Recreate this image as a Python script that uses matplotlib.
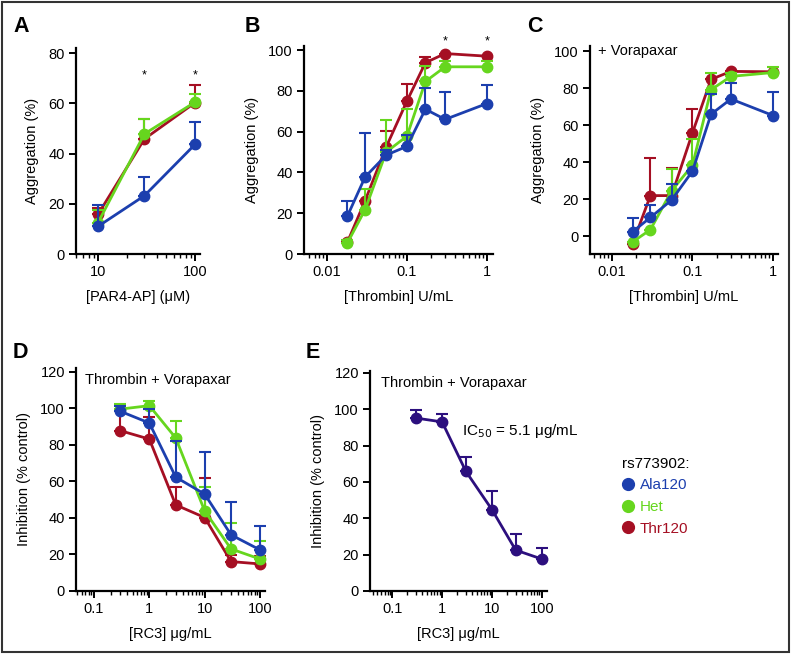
import numpy as np
import matplotlib
matplotlib.use("Agg")
import matplotlib.pyplot as plt
from matplotlib.lines import Line2D
from matplotlib.patches import Rectangle
from matplotlib.ticker import LogLocator, NullFormatter, FixedLocator

# ---------------- data ----------------
A_x = [10, 30, 100]
A_ala = [11.0, 23.2, 43.7]
A_ala_up = [19.7, 30.5, 52.5]
A_het = [12.5, 47.8, 60.5]
A_het_up = [17.5, 53.7, 63.7]
A_thr = [15.8, 45.8, 60.3]
A_thr_up = [18.3, 53.7, 67.2]
A_star_x = [30, 100]

B_x = [0.018, 0.03, 0.055, 0.1, 0.17, 0.3, 1]
B_ala = [18.6, 37.8, 48.5, 52.8, 71.0, 66.0, 73.8]
B_ala_up = [25.9, 59.5, 51.0, 58.2, 81.5, 79.3, 82.8]
B_het = [5.4, 21.8, 50.0, 57.8, 84.6, 91.8, 91.8]
B_het_up = [7.0, 32.0, 65.6, 71.1, 92.0, 94.6, 94.6]
B_thr = [5.8, 26.2, 52.5, 75.0, 93.8, 98.3, 97.0]
B_thr_up = [6.5, 26.2, 60.3, 83.6, 96.7, 98.3, 97.0]
B_star_x = [0.3, 1]

C_x = [0.018, 0.03, 0.055, 0.1, 0.17, 0.3, 1]
C_ala = [2.5, 10.2, 19.6, 35.2, 65.9, 74.1, 65.2]
C_ala_up = [9.7, 17.0, 28.2, 35.2, 76.8, 82.7, 77.7]
C_het = [-3.0, 3.6, 24.6, 38.4, 79.1, 86.3, 88.4]
C_het_up = [-3.0, 3.6, 36.6, 52.7, 88.0, 88.4, 91.4]
C_thr = [-4.0, 22.0, 22.0, 55.9, 84.7, 89.0, 88.8]
C_thr_up = [-4.0, 42.3, 37.0, 68.8, 84.7, 89.0, 88.8]

D_x = [0.3, 1, 3, 10, 30, 100]
D_ala = [98.3, 91.9, 62.3, 53.0, 30.7, 22.5]
D_ala_up = [101.0, 99.5, 81.8, 75.8, 48.6, 35.8]
D_het = [99.5, 101.4, 83.7, 43.8, 23.0, 17.5]
D_het_up = [102.3, 103.7, 93.2, 56.8, 37.1, 27.4]
D_thr = [87.7, 83.1, 47.1, 40.2, 16.1, 14.8]
D_thr_up = [101.9, 95.2, 57.0, 61.7, 19.7, 19.2]

E_x = [0.3, 1, 3, 10, 30, 100]
E_all = [95.1, 93.0, 65.8, 44.8, 22.5, 17.6]
E_all_up = [99.8, 97.6, 73.5, 55.0, 31.3, 23.5]

legend_title = "rs773902:"
legend_labels = ["Ala120", "Het", "Thr120"]

# ---------------- style ----------------
BLUE = "#1c3fae"
GREEN = "#66d61e"
RED = "#a50f23"
PURPLE = "#2c0f7e"

TICK_FONT = ["Liberation Sans", "DejaVu Sans"]
LABEL_FONT = ["Liberation Sans Narrow", "Liberation Sans", "DejaVu Sans"]
plt.rcParams["font.family"] = TICK_FONT

W, H = 792, 658
fig = plt.figure(figsize=(W / 100, H / 100), dpi=100)


def make_ax(left, right, top, bottom):
    return fig.add_axes([left / W, 1 - bottom / H, (right - left) / W, (bottom - top) / H])


def style_ax(ax, xlim, ylim, yticks, xticks, xticklabels, xlabel, ylabel):
    ax.set_xscale("log")
    ax.set_xlim(*xlim)
    ax.set_ylim(*ylim)
    for s in ["top", "right"]:
        ax.spines[s].set_visible(False)
    for s in ["left", "bottom"]:
        ax.spines[s].set_linewidth(1.6)
    ax.set_yticks(yticks)
    ax.xaxis.set_major_locator(FixedLocator(xticks))
    ax.set_xticklabels(xticklabels)
    ax.xaxis.set_minor_locator(LogLocator(base=10, subs=np.arange(2, 10)))
    ax.xaxis.set_minor_formatter(NullFormatter())
    ax.tick_params(axis="both", which="major", direction="out", length=5, width=1.4,
                   labelsize=10.5, pad=3)
    ax.tick_params(axis="x", which="minor", direction="out", length=3, width=1.0)
    ax.set_xlabel(xlabel, fontsize=10.5, family=LABEL_FONT, labelpad=8)
    ax.set_ylabel(ylabel, fontsize=10.5, family=LABEL_FONT, labelpad=7)


def series(ax, x, y, up, color, z):
    x = np.asarray(x, float)
    y = np.asarray(y, float)
    up = np.asarray(up, float)
    err = np.vstack([np.zeros_like(y), up - y])
    ax.errorbar(x, y, yerr=err, fmt="none", ecolor=color, elinewidth=1.5,
                capsize=4, capthick=1.5, zorder=z, clip_on=False)
    ax.plot(x, y, "-o", color=color, lw=2.0, ms=7.5, zorder=z + 0.5, clip_on=False)


# Panel A
axA = make_ax(76, 200, 48, 254)
series(axA, A_x, A_thr, A_thr_up, RED, 2)
series(axA, A_x, A_het, A_het_up, GREEN, 3)
series(axA, A_x, A_ala, A_ala_up, BLUE, 4)
style_ax(axA, (5.93, 112), (0, 82), [0, 20, 40, 60, 80], [10, 100], ["10", "100"],
         "[PAR4-AP] (\u03bcM)", "Aggregation (%)")
for sx in A_star_x:
    axA.text(sx, 71, "*", ha="center", va="center", fontsize=9)

# Panel B
axB = make_ax(304, 493, 46, 254)
series(axB, B_x, B_thr, B_thr_up, RED, 2)
series(axB, B_x, B_het, B_het_up, GREEN, 3)
series(axB, B_x, B_ala, B_ala_up, BLUE, 4)
style_ax(axB, (0.00516, 1.19), (0, 102), [0, 20, 40, 60, 80, 100], [0.01, 0.1, 1],
         ["0.01", "0.1", "1"], "[Thrombin] U/mL", "Aggregation (%)")
for sx in B_star_x:
    axB.text(sx, 104, "*", ha="center", va="center", fontsize=9, clip_on=False)

# Panel C
axC = make_ax(590, 778, 46, 254)
series(axC, C_x, C_thr, C_thr_up, RED, 2)
series(axC, C_x, C_het, C_het_up, GREEN, 3)
series(axC, C_x, C_ala, C_ala_up, BLUE, 4)
style_ax(axC, (0.00533, 1.154), (-9.5, 102.7), [0, 20, 40, 60, 80, 100], [0.01, 0.1, 1],
         ["0.01", "0.1", "1"], "[Thrombin] U/mL", "Aggregation (%)")
axC.text(0.04, 0.975, "+ Vorapaxar", transform=axC.transAxes, ha="left", va="center",
         fontsize=10.5)

# Panel D
axD = make_ax(76, 265, 368, 591)
series(axD, D_x, D_thr, D_thr_up, RED, 2)
series(axD, D_x, D_het, D_het_up, GREEN, 3)
series(axD, D_x, D_ala, D_ala_up, BLUE, 4)
style_ax(axD, (0.0473, 123), (0, 122), [0, 20, 40, 60, 80, 100, 120], [0.1, 1, 10, 100],
         ["0.1", "1", "10", "100"], "[RC3] \u03bcg/mL", "Inhibition (% control)")
axD.text(0.05, 0.945, "Thrombin + Vorapaxar", transform=axD.transAxes, ha="left",
         va="center", fontsize=10.5)

# Panel E
axE = make_ax(370, 547, 371, 591)
series(axE, E_x, E_all, E_all_up, PURPLE, 2)
style_ax(axE, (0.0356, 127.8), (0, 121), [0, 20, 40, 60, 80, 100, 120], [0.1, 1, 10, 100],
         ["0.1", "1", "10", "100"], "[RC3] \u03bcg/mL", "Inhibition (% control)")
axE.text(0.06, 0.945, "Thrombin + Vorapaxar", transform=axE.transAxes, ha="left",
         va="center", fontsize=10.5)
axE.text(0.52, 0.725, "IC$_{50}$ = 5.1 \u03bcg/mL", transform=axE.transAxes, ha="left",
         va="center", fontsize=11)

# Panel letters
for (px, py, lab) in [(13, 27, "A"), (245, 27, "B"), (527, 27, "C"),
                      (13, 353, "D"), (306, 353, "E")]:
    fig.text(px / W, 1 - py / H, lab, fontsize=15.5, fontweight="bold", ha="left",
             va="center", family=["Liberation Sans", "DejaVu Sans"])

# Legend
handles = [Line2D([], [], ls="none", marker="o", ms=8.5, color=c) for c in (BLUE, GREEN, RED)]
leg = fig.legend(handles, legend_labels, title=legend_title, loc="upper left",
                 bbox_to_anchor=(611 / W, 1 - 446 / H), frameon=False, fontsize=11,
                 title_fontsize=11, alignment="left", handlelength=0.8,
                 handletextpad=0.4, labelspacing=0.5, borderpad=0.2)
for t, c in zip(leg.get_texts(), (BLUE, GREEN, RED)):
    t.set_color(c)

# Figure frame
fig.patches.append(Rectangle((2 / W, 1 - 652 / H), 787 / W, 650 / H, transform=fig.transFigure,
                             fill=False, edgecolor="#333333", lw=1.5))

fig.savefig("out.png", dpi=100)
